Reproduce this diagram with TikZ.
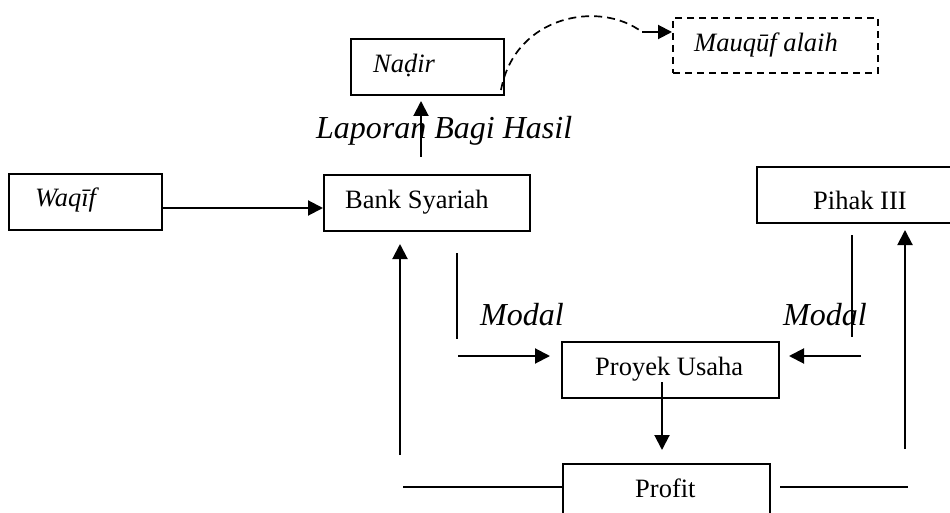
\documentclass[tikz,border=0pt]{standalone}
\usepackage{fontspec}
\setmainfont{Liberation Serif}
\usetikzlibrary{arrows.meta}
\begin{document}
\begin{tikzpicture}[x=1pt,y=-1pt,
  box/.style={draw, line width=2pt, rectangle, inner sep=0pt, anchor=north west},
  dbox/.style={box, dash pattern=on 7pt off 5pt},
  txt/.style={anchor=base west, inner sep=0pt, font=\fontsize{26.5}{30}\selectfont},
  itxt/.style={txt, font=\fontsize{26.5}{30}\selectfont\itshape},
  big/.style={anchor=base west, inner sep=0pt, font=\fontsize{32}{36}\selectfont\itshape},
  conn/.style={line width=2pt},
  arr/.style={conn, -{Triangle[length=15pt,width=15pt]}}]
\clip (0,0) rectangle (950,513);
\fill[white] (0,0) rectangle (950,513);

% boxes
\node[box, minimum width=153pt, minimum height=56pt] (nadir) at (350,38) {};
\node[dbox, minimum width=205pt, minimum height=55pt] (mauquf) at (672,17) {};
\node[box, minimum width=153pt, minimum height=56pt] (waqif) at (8,173) {};
\node[box, minimum width=206pt, minimum height=56pt] (bank) at (323,174) {};
\node[box, minimum width=210pt, minimum height=56pt] (pihak) at (756,166) {};
\node[box, minimum width=217pt, minimum height=56pt] (proyek) at (561,341) {};
\node[box, minimum width=207pt, minimum height=56pt] (profit) at (562,463) {};

% texts
\node[itxt] (tnadir) at (373,73) {Na\d{d}ir};
\node[itxt] (tmauquf) at (694,52) {Mauqūf alaih};
\node[itxt] (twaqif) at (35,207) {Waqīf};
\node[txt] (tbank) at (345,208) {Bank Syariah};
\node[big] (tlap) at (316,139) {Laporan Bagi Hasil};
\node[txt] (tpihak) at (813,210) {Pihak III};
\node[big] (tmodal1) at (480,325) {Modal};
\node[big] (tmodal2) at (783,325) {Modal};
\node[txt] (tproyek) at (595,375) {Proyek Usaha};
\node[txt] (tprofit) at (635,497) {Profit};

% Waqif -> Bank
\coordinate (w1) at (161,208);
\draw[arr] (w1) -- (w1 -| bank.west);

% Bank -> Nadir
\coordinate (lap) at (421,157);
\draw[arr] (lap) -- ([yshift=-5pt]nadir.south -| lap);

% Nadir -> Mauquf (dashed)
\coordinate (d0) at (501,90);
\coordinate (d1) at (642,32);
\draw[line width=1.7pt, dash pattern=on 8pt off 5pt] (d0) .. controls (515,15) and (600,0) .. (d1);
\draw[line width=2pt, -{Triangle[length=14pt,width=14pt]}] (d1) -- (d1 -| mauquf.west);

% Bank -> Proyek (Modal)
\coordinate (bl1) at (457,253);
\coordinate (bl2) at (457,339);
\draw[conn] (bl1) -- (bl2);
\coordinate (ba) at (458,356);
\draw[arr] (ba) -- ([xshift=-11pt]proyek.west |- ba);

% Pihak -> Proyek (Modal)
\coordinate (pl1) at (852,235);
\coordinate (pl2) at (852,337);
\draw[conn] (pl1) -- (pl2);
\coordinate (pa) at (861,356);
\draw[arr] (pa) -- ([xshift=9pt]proyek.east |- pa);

% Proyek -> Profit
\coordinate (pp) at (662,382);
\draw[arr] (pp) -- ([yshift=13pt]profit.north -| pp);

% Profit -> Bank
\coordinate (fl) at (403,487);
\draw[conn] (fl) -- (fl -| profit.west);
\coordinate (la) at (400,455);
\draw[arr] (la) -- ([yshift=-12pt]bank.south -| la);

% Profit -> Pihak
\coordinate (fr) at (908,487);
\draw[conn] ([xshift=9pt]profit.east |- fr) -- (fr);
\coordinate (ra) at (905,449);
\draw[arr] (ra) -- ([yshift=-6pt]pihak.south -| ra);
\end{tikzpicture}
\end{document}
